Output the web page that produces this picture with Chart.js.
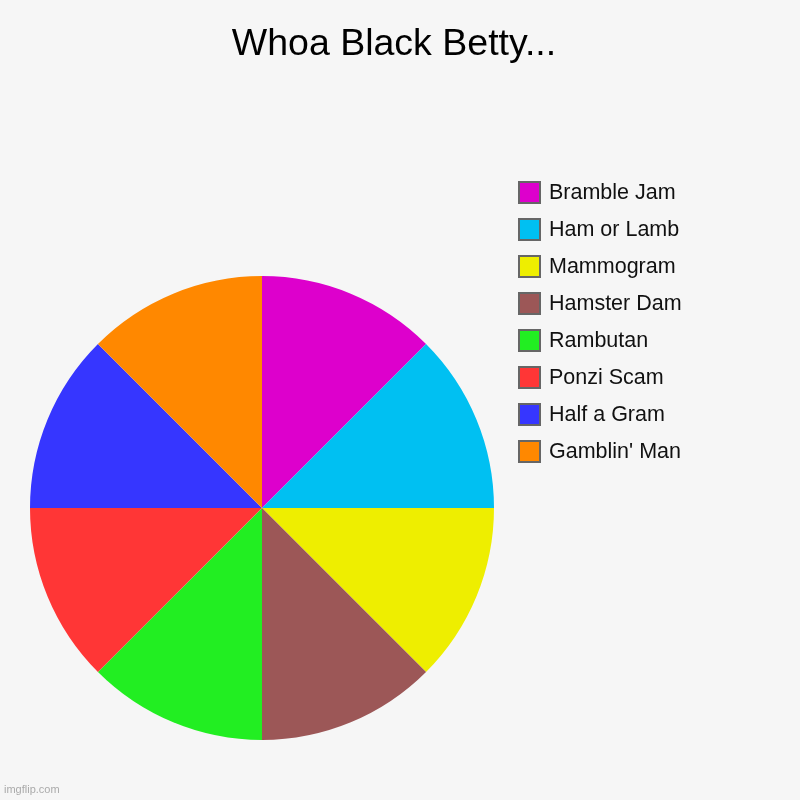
<!DOCTYPE html>
<html>
<head>
<meta charset="utf-8">
<script src="https://cdn.jsdelivr.net/npm/chart.js@4/dist/chart.umd.min.js"></script>
<style>
  html, body { margin: 0; padding: 0; background: #f6f6f6; }
  #wrap { position: relative; width: 800px; height: 800px; background: #f6f6f6; font-family: "Liberation Sans", Arial, sans-serif; }
  #title { position: absolute; left: 0; width: 788px; top: 21px; text-align: center; font-size: 37.5px; color: #000; }
  #legend { position: absolute; left: 518px; top: 181px; }
  .item { height: 37px; display: flex; align-items: flex-start; font-size: 21.5px; color: #111; }
  .box { width: 19px; height: 19px; border: 2px solid #666; margin-right: 8px; box-sizing: content-box; }
  .item span { line-height: 23px; }
  #mark { position: absolute; left: 4px; top: 783px; font-size: 11px; color: #aaa; }
  #chart { position: absolute; left: 0; top: 0; }
</style>
</head>
<body>
<div id="wrap">
  <canvas id="chart" width="800" height="800"></canvas>
  <div id="title">Whoa Black Betty...</div>
  <div id="legend"></div>
  <div id="mark">imgflip.com</div>
</div>
<script>
const labels = ["Bramble Jam", "Ham or Lamb", "Mammogram", "Hamster Dam", "Rambutan", "Ponzi Scam", "Half a Gram", "Gamblin' Man"];
const values = [1, 1, 1, 1, 1, 1, 1, 1];
const colors = ["#dd00cc", "#00c0f2", "#eeee00", "#9c5757", "#22ee22", "#ff3636", "#3636ff", "#ff8800"];

const legend = document.getElementById('legend');
labels.forEach((name, i) => {
  const row = document.createElement('div');
  row.className = 'item';
  row.innerHTML = '<div class="box" style="background:' + colors[i] + '"></div><span>' + name + '</span>';
  legend.appendChild(row);
});

new Chart(document.getElementById('chart'), {
  type: 'pie',
  data: {
    labels: labels,
    datasets: [{
      data: values,
      backgroundColor: colors,
      borderWidth: 0
    }]
  },
  options: {
    responsive: false,
    animation: false,
    layout: { padding: { left: 30, right: 306, top: 276, bottom: 60 } },
    plugins: {
      legend: { display: false },
      tooltip: { enabled: false }
    }
  }
});
</script>
</body>
</html>
